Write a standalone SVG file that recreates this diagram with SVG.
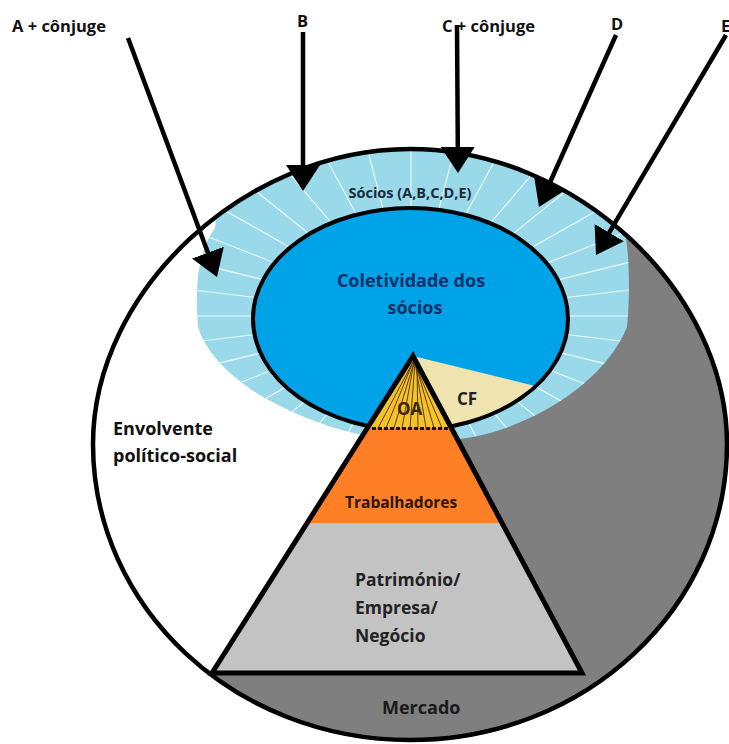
<svg xmlns="http://www.w3.org/2000/svg" xmlns:xlink="http://www.w3.org/1999/xlink" width="729" height="744" viewBox="0 0 729 744">
<style>
text{font-family:"Open Sans","Liberation Sans",sans-serif;font-weight:bold;}
.lbl{font-size:16.5px;fill:#111;}
.conn{stroke:#000;stroke-width:4.5;fill:none;marker-end:url(#ah);}
.rl{stroke:#ffffff;stroke-width:1.1;opacity:0.85;vector-effect:non-scaling-stroke;}
.fan{stroke:#5b3c11;stroke-width:1;}
</style>
<defs>
<marker id="ah" markerUnits="userSpaceOnUse" viewBox="0 0 26 34" refX="14" refY="17" markerWidth="26" markerHeight="34" orient="auto">
<path d="M0,0 L26,17 L0,34 Z" fill="#000"/>
</marker>
<path id="outerShape" d="M 93,444 C 93,290.6 245.2,149 410,149 C 575,149 727,290.6 727,444 C 727,607.5 585.6,740 410,740 C 234.4,740 93,607.5 93,444 Z"/>
<clipPath id="outerClip"><use xlink:href="#outerShape"/></clipPath>
<path id="ringShape" d="M 197,295 C 197,268 203,245 215,228 L 225,130 L 600,130 L 624,229 C 630,250 630,300 627,327 C 610,370 560,410 500,430 C 470,440 440,442 412,441 C 360,440 300,420 255,392 C 225,372 205,350 198,327 C 197,315 197,305 197,295 Z"/>
<clipPath id="ringClip"><use xlink:href="#ringShape"/></clipPath>
<ellipse id="innerShape" cx="410.5" cy="319" rx="157.5" ry="111"/>
<clipPath id="innerClip"><use xlink:href="#innerShape"/></clipPath>
<line id="rl" class="rl" x1="0" y1="0" x2="300" y2="0"/>
</defs>
<rect width="729" height="744" fill="#ffffff"/>

<g id="envolvente">
<use xlink:href="#outerShape" fill="#ffffff"/>
</g>

<g id="mercado">
<polygon points="413,356 624,229 760,60 760,760 -10,760 -10,673 582,673" fill="#7f7f7f" clip-path="url(#outerClip)"/>
</g>

<g id="socios" clip-path="url(#outerClip)">
<use xlink:href="#ringShape" fill="#99d9ea"/>
<g clip-path="url(#ringClip)">
<g transform="translate(411,316) scale(1.48,1)">
<use xlink:href="#rl" transform="rotate(0)"/>
<use xlink:href="#rl" transform="rotate(10)"/>
<use xlink:href="#rl" transform="rotate(20)"/>
<use xlink:href="#rl" transform="rotate(30)"/>
<use xlink:href="#rl" transform="rotate(40)"/>
<use xlink:href="#rl" transform="rotate(50)"/>
<use xlink:href="#rl" transform="rotate(60)"/>
<use xlink:href="#rl" transform="rotate(70)"/>
<use xlink:href="#rl" transform="rotate(80)"/>
<use xlink:href="#rl" transform="rotate(100)"/>
<use xlink:href="#rl" transform="rotate(110)"/>
<use xlink:href="#rl" transform="rotate(120)"/>
<use xlink:href="#rl" transform="rotate(130)"/>
<use xlink:href="#rl" transform="rotate(140)"/>
<use xlink:href="#rl" transform="rotate(150)"/>
<use xlink:href="#rl" transform="rotate(160)"/>
<use xlink:href="#rl" transform="rotate(170)"/>
<use xlink:href="#rl" transform="rotate(180)"/>
<use xlink:href="#rl" transform="rotate(190)"/>
<use xlink:href="#rl" transform="rotate(200)"/>
<use xlink:href="#rl" transform="rotate(210)"/>
<use xlink:href="#rl" transform="rotate(220)"/>
<use xlink:href="#rl" transform="rotate(230)"/>
<use xlink:href="#rl" transform="rotate(240)"/>
<use xlink:href="#rl" transform="rotate(250)"/>
<use xlink:href="#rl" transform="rotate(260)"/>
<use xlink:href="#rl" transform="rotate(270)"/>
<use xlink:href="#rl" transform="rotate(280)"/>
<use xlink:href="#rl" transform="rotate(290)"/>
<use xlink:href="#rl" transform="rotate(300)"/>
<use xlink:href="#rl" transform="rotate(310)"/>
<use xlink:href="#rl" transform="rotate(320)"/>
<use xlink:href="#rl" transform="rotate(330)"/>
<use xlink:href="#rl" transform="rotate(340)"/>
<use xlink:href="#rl" transform="rotate(350)"/>
</g>
</g>
</g>

<g id="coletividade">
<use xlink:href="#innerShape" fill="#00a2e8"/>
</g>

<g id="cf">
<polygon points="413,356 600,402 600,480 440,480" fill="#efe4b0" clip-path="url(#innerClip)"/>
</g>

<use xlink:href="#innerShape" fill="none" stroke="#000" stroke-width="4"/>

<g id="oa">
<polygon points="413,356 367.3,428 451.4,428" fill="#f5c22a"/>
<line class="fan" x1="413" y1="362" x2="378" y2="428"/>
<line class="fan" x1="413" y1="362" x2="386" y2="428"/>
<line class="fan" x1="414" y1="362" x2="394" y2="428"/>
<line class="fan" x1="414" y1="362" x2="402" y2="428"/>
<line class="fan" x1="415" y1="362" x2="410" y2="428"/>
<line class="fan" x1="417" y1="368" x2="418" y2="428"/>
<line class="fan" x1="415" y1="362" x2="426" y2="428"/>
<line class="fan" x1="415" y1="362" x2="434" y2="428"/>
<line class="fan" x1="414" y1="362" x2="442" y2="428"/>
</g>

<g id="trabalhadores">
<polygon points="367.3,428 451.4,428 502,523 307.1,523" fill="#ff7f27"/>
<line x1="372" y1="428.5" x2="449" y2="428.5" stroke="#111" stroke-width="3" stroke-dasharray="4 2"/>
</g>

<g id="patrimonio">
<polygon points="307.1,523 502,523 582,673 212,673" fill="#c3c3c3"/>
</g>

<polygon id="piramide" points="413,356 212,673 582,673" fill="none" stroke="#000" stroke-width="5"/>

<use xlink:href="#outerShape" fill="none" stroke="#000" stroke-width="4.5"/>

<g id="connectors">
<line class="conn" x1="128" y1="38" x2="212.8" y2="265.8"/>
<line class="conn" x1="303" y1="32" x2="303" y2="179"/>
<line class="conn" x1="457" y1="25" x2="457.9" y2="161"/>
<line class="conn" x1="616" y1="35" x2="543.9" y2="196"/>
<line class="conn" x1="726" y1="35" x2="602.1" y2="244.7"/>
</g>

<g id="label-a"><text class="lbl" x="12" y="32">A + cônjuge</text></g>
<g id="label-b"><text class="lbl" x="297" y="27">B</text></g>
<g id="label-c"><text class="lbl" x="442" y="32">C + cônjuge</text></g>
<g id="label-d"><text class="lbl" x="611" y="30">D</text></g>
<g id="label-e"><text class="lbl" x="721" y="32">E</text></g>

<g id="textos">
<text x="410" y="198" font-size="14.5" fill="#1c2b3a" text-anchor="middle">Sócios (A,B,C,D,E)</text>
<text x="411" y="287" font-size="18" fill="#10306a" text-anchor="middle">Coletividade dos</text>
<text x="415" y="314" font-size="18" fill="#10306a" text-anchor="middle">sócios</text>
<text x="457" y="405" font-size="17" fill="#222">CF</text>
<text x="397" y="415" font-size="17" fill="#3a2506">OA</text>
<text x="345" y="508" font-size="15.5" fill="#2a1608">Trabalhadores</text>
<text x="355" y="586" font-size="17.5" fill="#222">Património/</text>
<text x="355" y="614" font-size="17.5" fill="#222">Empresa/</text>
<text x="355" y="642" font-size="17.5" fill="#222">Negócio</text>
<text x="382" y="714" font-size="18" fill="#1a1a1a">Mercado</text>
<text x="113" y="435" font-size="18" fill="#111">Envolvente</text>
<text x="113" y="462" font-size="18" fill="#111">político-social</text>
</g>
</svg>
